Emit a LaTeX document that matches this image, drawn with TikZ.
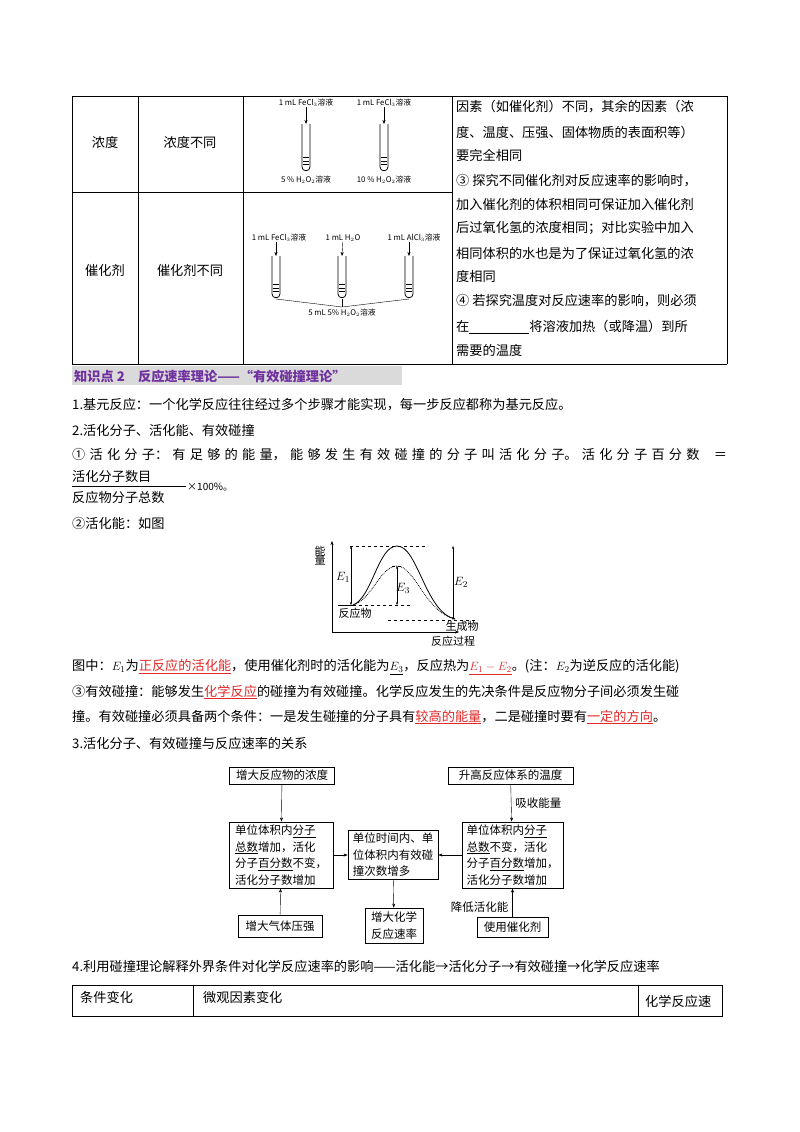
\documentclass[tikz,border=0pt]{standalone}
\usepackage{fontspec}
\setmainfont{Noto Sans CJK SC}
\usetikzlibrary{arrows.meta}
\definecolor{hred}{RGB}{225,40,40}
\definecolor{hpurple}{RGB}{112,48,160}
\definecolor{hgray}{RGB}{218,218,218}
\newcommand\fbody{\fontsize{13.2}{16}\selectfont}
\newcommand\fsmall{\fontsize{7.8}{8}\selectfont}
\newcommand\fflow{\fontsize{11.5}{16.5}\selectfont}
\newcommand\tubeat[3]{%
 \draw[thick] (#1-4,#2) -- (#1-4,#3-4) .. controls (#1-4,#3+1) and (#1+4,#3+1) .. (#1+4,#3-4) -- (#1+4,#2);
 \foreach \k in {1,2,3}{\draw[line width=.5pt] (#1-3,#3-3-3.5*\k) -- (#1+3,#3-3-3.5*\k);}}
\tikzset{
 txt/.style={anchor=west,inner sep=0pt,font=\fbody},
 cell/.style={inner sep=0pt,font=\fbody},
 lab/.style={inner sep=0pt,font=\fsmall},
 fbx/.style={draw,thick,inner sep=3pt,font=\fflow,align=left},
 arr/.style={-{Stealth[length=4pt,width=3pt]},thin},
}
\begin{document}
\begin{tikzpicture}[x=1pt,y=-1pt]
\useasboundingbox (0,0) rectangle (800,1132);
% ---- top table
\draw[thick] (72,96) -- (727,96);
\draw[thick] (72,364) -- (727,364);
\foreach \xx in {72,138,243,452,727}{\draw[thick] (\xx,96) -- (\xx,364);}
\draw[thick] (72,192) -- (452,192);
\node[cell] (c11) at (105,142) {浓度};
\node[cell] (c12) at (190,142) {浓度不同};
\node[cell] (c21) at (105,270) {催化剂};
\node[cell] (c22) at (190,270) {催化剂不同};
% tubes row 1
\node[lab] (l1) at (306,103) {1 mL FeCl$_3$溶液};
\node[lab] (l2) at (384,103) {1 mL FeCl$_3$溶液};
\coordinate (t1) at (306,124); \coordinate (t2) at (384,124);
\draw[arr] (l1) -- (t1); \draw[arr] (l2) -- (t2);
\tubeat{306}{124}{171}
\tubeat{384}{124}{171}
\node[lab] (b1) at (306,180) {5 \% H$_2$O$_2$溶液};
\node[lab] (b2) at (384,180) {10 \% H$_2$O$_2$溶液};
% tubes row 2
\node[lab] (m1) at (279,238) {1 mL FeCl$_3$溶液};
\node[lab] (m2) at (343,238) {1 mL H$_2$O};
\node[lab] (m3) at (414,238) {1 mL AlCl$_3$溶液};
\coordinate (u1) at (276,256); \coordinate (u2) at (342,256); \coordinate (u3) at (409,256);
\draw[arr] (m1.south -| u1) -- (u1); \draw[arr] (m2) -- (u2); \draw[arr] (m3.south -| u3) -- (u3);
\tubeat{276}{256}{298}
\tubeat{342}{256}{298}
\tubeat{409}{256}{298}
\coordinate (jn) at (342,307);
\draw (276,299) -- (jn) -- (409,299); \draw (342,299) -- (jn);
\node[lab] (m4) at (342,313) {5 mL 5\% H$_2$O$_2$溶液};
% right column text
\foreach \yy/\tt in {107/{因素（如催化剂）不同，其余的因素（浓},132/{度、温度、压强、固体物质的表面积等）},155/{要完全相同},181/{③ 探究不同催化剂对反应速率的影响时，},204/{加入催化剂的体积相同可保证加入催化剂},228/{后过氧化氢的浓度相同；对比实验中加入},253/{相同体积的水也是为了保证过氧化氢的浓},276/{度相同},301/{④ 若探究温度对反应速率的影响，则必须},350/{需要的温度}}
 {\node[txt] at (456,\yy) {\tt};}
\node[txt] (r10) at (456,327) {在\rule[-2pt]{60pt}{0.8pt}将溶液加热（或降温）到所};
% ---- knowledge header
\fill[hgray] (72,366) rectangle (402,385);
\node[txt,text=hpurple,font=\fbody\bfseries] (hd) at (74,376) {知识点 2\quad 反应速率理论——“有效碰撞理论”};
\node[txt] (p1) at (72,405) {1.基元反应：一个化学反应往往经过多个步骤才能实现，每一步反应都称为基元反应。};
\node[txt] (p2) at (72,430) {2.活化分子、活化能、有效碰撞};
\node[txt] (p3) at (72,455) {\makebox[655pt][s]{① 活 化 分 子： 有 足 够 的 能 量， 能 够 发 生 有 效 碰 撞 的 分 子 叫 活 化 分 子。 活 化 分 子 百 分 数 \hspace{6pt} ＝}};
\node[txt] (fn) at (72,476) {活化分子数目};
\draw (72,486) -- (186,486);
\node[txt] (fd) at (72,497) {反应物分子总数};
\node[txt,font=\fontsize{10}{12}\selectfont] (fx) at (187,487) {×100\%。};
\node[txt] (p4) at (72,523) {②活化能：如图};
% ---- energy diagram
\coordinate (O) at (332,632);
\draw[arr] (O) -- (332,541);
\draw[arr] (O) -- (459,632);
\node[cell,font=\fontsize{11}{11}\selectfont,align=center] (yl) at (320,556) {能\\[-2pt]量};
\draw (338,605) -- (353,605);
\draw[dashed] (353,605) -- (413,605);
\draw[dashed] (350,546) -- (428,546);
\draw[dashed] (392,566) -- (402,566);
\draw[dashed] (388,620) -- (478,620);
\draw[thick] (353,605) .. controls (372,598) and (378,546) .. (397,546) .. controls (418,546) and (425,612) .. (455,619);
\draw[densely dotted,thick] (353,605) .. controls (372,600) and (380,566) .. (397,566) .. controls (415,566) and (425,612) .. (455,619);
\draw[{Stealth[length=3pt]}-{Stealth[length=3pt]}] (351,546) -- (351,605);
\draw[{Stealth[length=3pt]}-{Stealth[length=3pt]}] (397,566) -- (397,605);
\draw[{Stealth[length=3pt]}-{Stealth[length=3pt]}] (453,546) -- (453,620);
\node[cell] (e1) at (343,577) {$E_1$};
\node[cell] (e3) at (403,588) {$E_3$};
\node[cell] (e2) at (461,582) {$E_2$};
\node[cell,font=\fontsize{11}{11}\selectfont] (rp) at (355,613) {反应物};
\node[cell,font=\fontsize{11}{11}\selectfont] (pp) at (462,626) {生成物};
\node[cell,font=\fontsize{11}{11}\selectfont] (rx) at (453,641) {反应过程};
% ---- text
\node[txt] (p5) at (72,667) {图中：$E_1$为\textcolor{hred}{\underline{正反应的活化能}}，使用催化剂时的活化能为\underline{$E_3$}，反应热为\textcolor{hred}{\underline{$E_1-E_2$}}。(注：$E_2$为逆反应的活化能)};
\node[txt] (p6) at (72,692) {③有效碰撞：能够发生\textcolor{hred}{\underline{化学反应}}的碰撞为有效碰撞。化学反应发生的先决条件是反应物分子间必须发生碰};
\node[txt] (p7) at (72,717) {撞。有效碰撞必须具备两个条件：一是发生碰撞的分子具有\textcolor{hred}{\underline{较高的能量}}，二是碰撞时要有\textcolor{hred}{\underline{一定的方向}}。};
\node[txt] (p8) at (72,743) {3.活化分子、有效碰撞与反应速率的关系};
% ---- flowchart
\node[fbx,minimum width=105,minimum height=17] (A) at (282,775.5) {增大反应物的浓度};
\node[fbx,minimum width=125,minimum height=17] (E) at (510.5,775.5) {升高反应体系的温度};
\node[fbx,minimum width=104,minimum height=66] (B) at (281,855) {单位体积内\underline{分子}\\\underline{总数}增加，活化\\分子\underline{百分数}不变，\\活化分子数增加};
\node[fbx,minimum width=90,minimum height=46] (C) at (393,855) {单位时间内、单\\位体积内有效碰\\撞次数增多};
\node[fbx,minimum width=101,minimum height=66] (D) at (512.5,855) {单位体积内\underline{分子}\\\underline{总数}不变，活化\\分子\underline{百分数}增加，\\活化分子数增加};
\node[fbx,minimum width=84,minimum height=22] (F) at (280,926) {增大气体压强};
\node[fbx,minimum width=58,minimum height=35] (G) at (394,925.5) {增大化学\\反应速率};
\node[fbx,minimum width=71,minimum height=20] (H) at (512.5,927) {使用催化剂};
\draw[arr] (A) -- (B);
\draw[arr] (F) -- (B);
\draw[arr] (E) -- node[right,font=\fflow,inner sep=4pt] {吸收能量} (D);
\draw[arr] (H) -- node[left,font=\fflow,inner sep=4pt,pos=.35] {降低活化能} (D);
\draw[arr] (B) -- (C);
\draw[arr] (D) -- (C);
\draw[arr] (C) -- (G);
% ---- bottom
\node[txt] (p9) at (72,966) {4.利用碰撞理论解释外界条件对化学反应速率的影响——活化能→活化分子→有效碰撞→化学反应速率};
\draw (72,985) rectangle (722,1016);
\draw (193,985) -- (193,1016); \draw (638,985) -- (638,1016);
\node[txt] (q1) at (80,997) {条件变化};
\node[txt] (q2) at (203,997) {微观因素变化};
\node[txt] (q3) at (645,1001) {化学反应速};
\end{tikzpicture}
\end{document}
